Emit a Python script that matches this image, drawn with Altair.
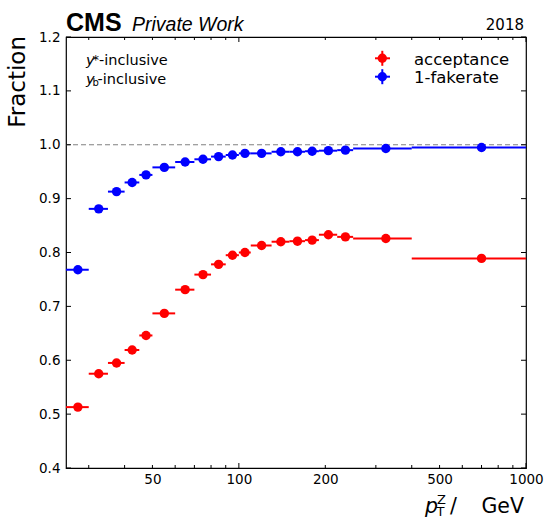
import altair as alt
import pandas as pd

# pT^Z binning (GeV)
bin_edges = [25, 30, 35, 40, 45, 50, 60, 70, 80, 90, 100, 110, 130, 150, 170, 190, 220, 250, 400, 1000]

acceptance = [0.513, 0.575, 0.595, 0.619, 0.646, 0.687, 0.731, 0.759, 0.778, 0.795,
              0.800, 0.813, 0.820, 0.821, 0.823, 0.833, 0.829, 0.826, 0.789]
one_minus_fakerate = [0.768, 0.881, 0.913, 0.930, 0.944, 0.958, 0.968, 0.973, 0.978, 0.981,
                      0.984, 0.984, 0.987, 0.987, 0.988, 0.989, 0.990, 0.993, 0.995]

series_names = ["acceptance", "1-fakerate"]
series_colors = ["#ff0000", "#0000ff"]

x_tick_labels = [50, 100, 200, 500, 1000]
x_minor_ticks = [30, 40, 50, 60, 70, 80, 90, 200, 300, 400, 500, 600, 700, 800, 900]
x_major_ticks = [100, 1000]
y_ticks = [0.4, 0.5, 0.6, 0.7, 0.8, 0.9, 1.0, 1.1, 1.2]

W, H = 460, 431
MARKER = 88

rows = []
for name, vals in zip(series_names, [acceptance, one_minus_fakerate]):
    for lo, hi, v in zip(bin_edges[:-1], bin_edges[1:], vals):
        rows.append({"series": name, "lo": lo, "hi": hi, "center": (lo + hi) / 2, "value": v})
df = pd.DataFrame(rows)

xscale = alt.Scale(type="log", domain=[25, 1000], nice=False)
yscale = alt.Scale(domain=[0.4, 1.2], nice=False, zero=False)
cscale = alt.Scale(domain=series_names, range=series_colors)

xaxis = alt.Axis(values=x_tick_labels, format="d", title=None, ticks=False, tickSize=0,
                 domain=False, grid=False, labelFont="DejaVu Sans", labelFontSize=13.5,
                 labelColor="black", labelPadding=4, labelFlush=False, labelOverlap=False)
yaxis = alt.Axis(values=y_ticks, format=".1f", title=None, ticks=False, tickSize=0,
                 domain=False, grid=False, labelFont="DejaVu Sans", labelFontSize=13.5,
                 labelColor="black", labelPadding=6, labelFlush=False, labelOverlap=False)

X = lambda f: alt.X(f, scale=xscale, axis=xaxis)
Y = lambda f: alt.Y(f, scale=yscale, axis=yaxis)

# reference line at unity
unity = alt.Chart(pd.DataFrame({"y": [1.0]})).mark_rule(
    color="#808080", strokeDash=[5, 3], strokeWidth=1
).encode(y=Y("y:Q"))

base = alt.Chart(df)
xerr = base.mark_rule(strokeWidth=2).encode(
    x=X("lo:Q"), x2="hi:Q", y=Y("value:Q"),
    color=alt.Color("series:N", scale=cscale, legend=None),
)
points = base.mark_circle(size=MARKER, opacity=1).encode(
    x=X("center:Q"), y=Y("value:Q"),
    color=alt.Color("series:N", scale=cscale, legend=None),
)

# inward ticks on all four sides
def xticks(vals, length):
    d = alt.Chart(pd.DataFrame({"v": vals}))
    bottom = d.mark_rule(color="black", strokeWidth=1).encode(
        x=X("v:Q"), y=alt.value(H), y2=alt.value(H - length))
    top = d.mark_rule(color="black", strokeWidth=1).encode(
        x=X("v:Q"), y=alt.value(0), y2=alt.value(length))
    return [bottom, top]

yd = alt.Chart(pd.DataFrame({"v": y_ticks}))
yticks_left = yd.mark_rule(color="black", strokeWidth=1).encode(
    y=Y("v:Q"), x=alt.value(0), x2=alt.value(5))
yticks_right = yd.mark_rule(color="black", strokeWidth=1).encode(
    y=Y("v:Q"), x=alt.value(W), x2=alt.value(W - 5))


def label(text, x, y, size, font="DejaVu Sans", align="left", baseline="alphabetic", **kw):
    return alt.Chart(pd.DataFrame({"t": [text]})).mark_text(
        align=align, baseline=baseline, fontSize=size, font=font, color="black", **kw
    ).encode(text="t:N", x=alt.value(x), y=alt.value(y))


texts = [
    label("CMS", 0, -6, 25, font="Liberation Sans", fontWeight="bold"),
    label("Private Work", 66, -6, 19.5, font="Liberation Sans", fontStyle="italic"),
    label("2018", 458, -7, 15, align="right"),
    label("Fraction", -41, -1, 23, align="right", angle=270),
    # x-axis title: p_T^Z / GeV
    label("p", 359, 476, 20.5, fontStyle="italic"),
    label("T", 370.5, 479, 13),
    label("Z", 371, 466.5, 13),
    label("/", 384, 476, 20.5),
    label("GeV", 458, 476, 20.5, align="right"),
    # selection annotations
    label("y", 20, 27.5, 14.5, fontStyle="italic"),
    label("*", 26.5, 27, 13),
    label("-inclusive", 33, 27.5, 14.5),
    label("y", 20, 47, 14.5, fontStyle="italic"),
    label("b", 26.5, 48.5, 10),
    label("-inclusive", 31.5, 47, 14.5),
    # legend entries
    label("acceptance", 348, 28, 16.5),
    label("1-fakerate", 348, 45.5, 16.5),
]

legend_marks = []
for cy, color in zip([21.3, 39.7], series_colors):
    one = alt.Chart(pd.DataFrame({"k": [0]}))
    legend_marks.append(one.mark_rule(color=color, strokeWidth=2).encode(
        x=alt.value(309), x2=alt.value(324), y=alt.value(cy)))
    legend_marks.append(one.mark_rule(color=color, strokeWidth=2).encode(
        x=alt.value(316.3), y=alt.value(cy - 7.5), y2=alt.value(cy + 7.5)))
    legend_marks.append(one.mark_circle(size=MARKER, opacity=1, color=color).encode(
        x=alt.value(316.3), y=alt.value(cy)))

chart = alt.layer(
    unity, xerr, points,
    *xticks(x_minor_ticks, 3), *xticks(x_major_ticks, 5),
    yticks_left, yticks_right,
    *legend_marks, *texts,
).properties(
    width=W, height=H,
    padding={"left": 66, "top": 37, "right": 20, "bottom": 55},
    autosize=alt.AutoSizeParams(type="none"),
).configure_view(stroke="black", strokeWidth=1.2)

chart.save("out.html", embed_options={"renderer": "svg", "actions": False})
